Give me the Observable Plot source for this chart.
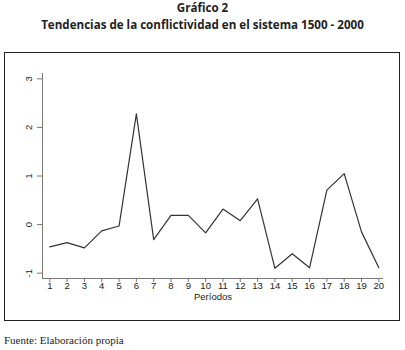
<!DOCTYPE html>
<html>
<head>
<meta charset="utf-8">
<script src="https://cdn.jsdelivr.net/npm/d3@7"></script>
<script src="https://cdn.jsdelivr.net/npm/@observablehq/plot@0.6"></script>
<style>
  html, body { margin: 0; padding: 0; background: #fff; }
  body { width: 405px; height: 350px; position: relative; overflow: hidden; }
  .t { position: absolute; left: 0; width: 405px; text-align: center; font-family: "Open Sans", sans-serif; font-weight: bold; color: #222; font-size: 11.6px; }
  #frame { position: absolute; left: 4px; top: 52px; width: 394px; height: 267px; border: 1.5px solid #222; pointer-events: none; }
  #chart { position: absolute; left: 0; top: 52px; }
  #cap { position: absolute; left: 4px; top: 334px; font-family: "Liberation Serif", serif; font-size: 11px; color: #222; }
</style>
</head>
<body>
<div class="t" style="top:0px">Gráfico 2</div>
<div class="t" style="top:17px">Tendencias de la conflictividad en el sistema 1500 - 2000</div>
<div id="chart"></div>
<div id="frame"></div>
<div id="cap">Fuente: Elaboración propia</div>
<script>
const periodos = [1,2,3,4,5,6,7,8,9,10,11,12,13,14,15,16,17,18,19,20];
const valores = [-0.46,-0.37,-0.48,-0.13,-0.03,2.28,-0.31,0.19,0.19,-0.17,0.32,0.08,0.53,-0.90,-0.60,-0.89,0.71,1.05,-0.15,-0.89];
const yTicks = [-1,0,1,2,3];
const xLabel = "Períodos";

const data = periodos.map((p, i) => ({p, v: valores[i]}));
const xDom = [0.58, 20.27];
const yDom = [-1.11, 3.11];

const chart = Plot.plot({
  width: 405,
  height: 270,
  marginLeft: 42,
  marginRight: 22,
  marginTop: 21,
  marginBottom: 44,
  style: {fontFamily: "'Liberation Sans', Arial, sans-serif", fontSize: "9.5px", color: "#222", background: "transparent"},
  x: {domain: xDom},
  y: {domain: yDom},
  marks: [
    Plot.axisY({ticks: yTicks, tickSize: 5, tickRotate: -90, tickPadding: 6, tickFormat: d => String(d), label: null, stroke: "#777"}),
    Plot.axisX({ticks: periodos, tickSize: 4, tickPadding: 0, tickFormat: d => String(d), label: null, stroke: "#777"}),
    Plot.text([xLabel], {frameAnchor: "bottom", dy: 21, fill: "#222"}),
    Plot.ruleX([xDom[0]], {y1: yDom[0], y2: yDom[1], stroke: "#777"}),
    Plot.ruleY([yDom[0]], {x1: xDom[0], x2: xDom[1], stroke: "#777"}),
    Plot.line(data, {x: "p", y: "v", stroke: "#333", strokeWidth: 1.2})
  ]
});
document.getElementById("chart").append(chart);
</script>
</body>
</html>
